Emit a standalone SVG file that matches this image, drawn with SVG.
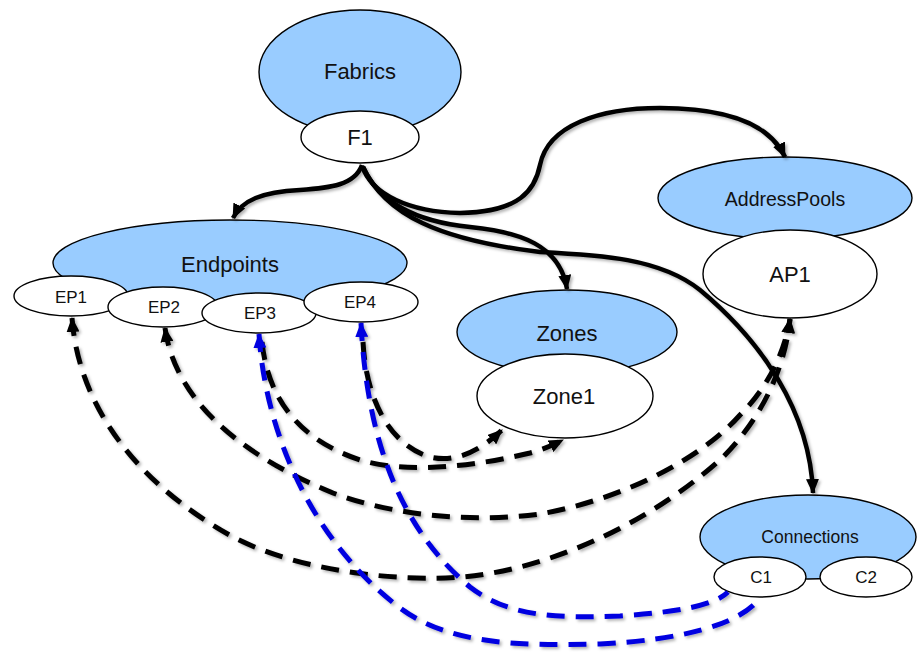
<svg xmlns="http://www.w3.org/2000/svg" width="917" height="653" viewBox="0 0 917 653">
<style>
.grp{fill:#9cf;stroke:#000;stroke-width:1.4}
.item{fill:#fff;stroke:#000;stroke-width:1.4}
text{font-family:"Liberation Sans","Noto Sans",Arial,sans-serif;fill:#111;text-anchor:middle}
.big{font-size:22px}
.mid{font-size:19.5px}
.con{font-size:17.5px}
.sm{font-size:17px}
.solid{fill:none;stroke:#000;stroke-width:4.5}
.dash{fill:none;stroke:#000;stroke-width:5;stroke-dasharray:18 11}
.bdash{fill:none;stroke:#0000e0;stroke-width:5;stroke-dasharray:18 11}
</style>
<defs>
<marker id="ah" viewBox="0 0 15 13" refX="14" refY="6.5" markerWidth="15" markerHeight="13" markerUnits="userSpaceOnUse" orient="auto"><path d="M0,0 L15,6.5 L0,13 Z" fill="#000"/></marker>
<marker id="ahs" viewBox="0 0 15 13" refX="14" refY="6.5" markerWidth="15" markerHeight="13" markerUnits="userSpaceOnUse" orient="auto-start-reverse"><path d="M0,0 L15,6.5 L0,13 Z" fill="#000"/></marker>
<marker id="bhs" viewBox="0 0 15 13" refX="14" refY="6.5" markerWidth="15" markerHeight="13" markerUnits="userSpaceOnUse" orient="auto-start-reverse"><path d="M0,0 L15,6.5 L0,13 Z" fill="#0000e0"/></marker>
<filter id="sh" x="-10%" y="-10%" width="120%" height="120%"><feDropShadow dx="2" dy="2" stdDeviation="1.5" flood-color="#000" flood-opacity="0.3"/></filter>
</defs>

<g id="fabrics">
<ellipse class="grp" cx="360" cy="72" rx="101" ry="62"/>
<text class="big" x="360" y="79">Fabrics</text>
</g>
<g id="F1">
<ellipse class="item" cx="360" cy="137" rx="59" ry="26"/>
<text class="big" x="360" y="145">F1</text>
</g>

<g id="endpoints">
<ellipse class="grp" cx="230" cy="263" rx="177" ry="43"/>
<text class="big" x="230" y="272">Endpoints</text>
</g>
<g id="EP1">
<ellipse class="item" cx="71" cy="296" rx="57" ry="20"/>
<text class="sm" x="71" y="303">EP1</text>
</g>
<g id="EP2">
<ellipse class="item" cx="163" cy="307" rx="55" ry="20"/>
<text class="sm" x="164" y="313">EP2</text>
</g>
<g id="EP3">
<ellipse class="item" cx="259" cy="313" rx="57" ry="20"/>
<text class="sm" x="260" y="319">EP3</text>
</g>
<g id="EP4">
<ellipse class="item" cx="361" cy="302" rx="57" ry="20"/>
<text class="sm" x="360" y="308">EP4</text>
</g>

<g id="addresspools">
<ellipse class="grp" cx="785" cy="198" rx="127" ry="41"/>
<text class="mid" x="785" y="206">AddressPools</text>
</g>
<g id="AP1">
<ellipse class="item" cx="790" cy="274" rx="87" ry="44"/>
<text class="big" x="790" y="282">AP1</text>
</g>

<g id="zones">
<ellipse class="grp" cx="567" cy="332" rx="110" ry="42"/>
<text class="big" x="567" y="341">Zones</text>
</g>
<g id="Zone1">
<ellipse class="item" cx="565" cy="396" rx="88" ry="42"/>
<text class="big" x="564" y="404">Zone1</text>
</g>

<g id="connections">
<ellipse class="grp" cx="808" cy="537" rx="108" ry="42"/>
<text class="con" x="810" y="543">Connections</text>
</g>
<g id="C1">
<ellipse class="item" cx="760" cy="577" rx="46" ry="20"/>
<text class="sm" x="761" y="583">C1</text>
</g>
<g id="C2">
<ellipse class="item" cx="866" cy="577" rx="46" ry="20"/>
<text class="sm" x="866" y="583">C2</text>
</g>

<g id="connectors" filter="url(#sh)">
<path class="solid" marker-end="url(#ah)" d="M362,165 C355,185 330,188 300,190 C262,192 242,200 233,218"/>
<path class="solid" marker-end="url(#ah)" d="M362,166 C372,195 410,212 460,213 C520,212 535,190 540,165 C548,125 600,108 660,108 C730,108 770,125 785,157"/>
<path class="solid" marker-end="url(#ah)" d="M363,167 C380,205 420,222 470,227 C520,232 560,245 567,289"/>
<path class="solid" marker-end="url(#ah)" d="M363,167 C385,215 440,240 540,252 C600,255 660,258 700,290 C760,340 810,410 813,493"/>

<path class="dash" marker-start="url(#ahs)" marker-end="url(#ah)" d="M72,318 C78,400 130,480 233,537 C300,572 400,582 463,577 C560,568 660,515 723,457 C760,420 785,370 790,319"/>
<path class="dash" marker-start="url(#ahs)" marker-end="url(#ah)" d="M165,328 C175,400 240,455 333,493 C400,518 480,522 540,514 C620,500 700,460 740,415 C770,385 785,350 790,319"/>
<path class="dash" marker-end="url(#ah)" d="M262,342 C268,400 300,440 360,460 C410,475 480,465 530,453 C545,449 553,445 563,440"/>
<path class="dash" marker-end="url(#ah)" d="M363,342 C366,400 390,445 430,457 C460,464 485,446 502,430"/>

<path class="bdash" marker-start="url(#bhs)" d="M259,334 C265,430 310,540 400,608 C450,645 520,646 600,644 C680,640 740,625 760,598"/>
<path class="bdash" marker-start="url(#bhs)" d="M361,323 C366,420 390,520 470,587 C510,618 560,618 620,616 C680,612 715,605 728,592"/>
</g>
</svg>
